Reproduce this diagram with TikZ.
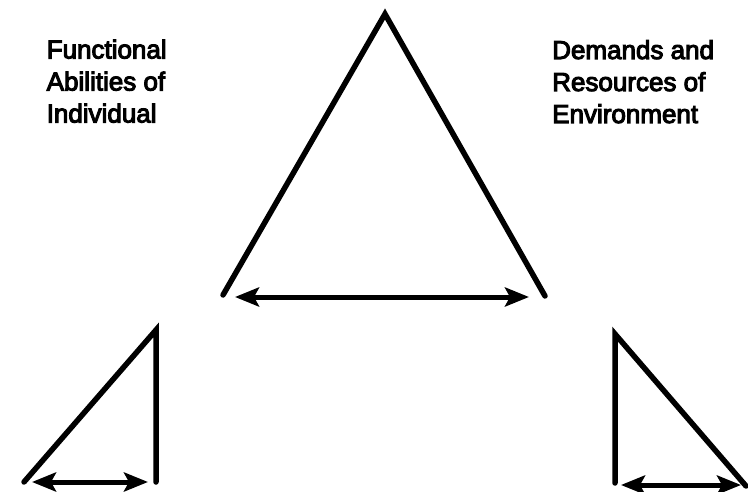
\documentclass[tikz,border=0pt]{standalone}
\usepackage{fontspec}
\usetikzlibrary{arrows.meta}
\newfontfamily\lblfont[FakeBold=4]{Liberation Sans}
\tikzset{
  edge/.style={line width=5.5pt, line cap=round, line join=miter},
  headtip/.tip={Stealth[length=24pt,width=19pt,inset=5pt]},
  dblarrow/.style={line width=5pt, headtip-headtip},
  lbl/.style={anchor=base west, inner sep=0pt, align=left, font=\lblfont\fontsize{26}{32}\selectfont}
}
\begin{document}
\begin{tikzpicture}[x=1pt,y=-1pt]
\useasboundingbox (0,0) rectangle (748,492);
% main triangle
\coordinate (apex) at (385,14);
\coordinate (mL) at (223,295);
\coordinate (mR) at (545,296);
\draw[edge] (mL) -- (apex) -- (mR);
\coordinate (maL) at (235,297);
\coordinate (maR) at (529,297);
\draw[dblarrow] (maL) -- (maR);
% left small triangle
\coordinate (lA) at (156,330);
\coordinate (lL) at (24,482);
\coordinate (lB) at (156,482);
\draw[edge] (lL) -- (lA) -- (lB);
\coordinate (laL) at (32,482);
\coordinate (laR) at (148,482);
\draw[dblarrow] (laL) -- (laR);
% right small triangle
\coordinate (rA) at (615,334);
\coordinate (rB) at (615,483);
\coordinate (rR) at (746,486);
\draw[edge] (rB) -- (rA) -- (rR);
\coordinate (raL) at (621,485);
\coordinate (raR) at (741,485);
\draw[dblarrow] (raL) -- (raR);
% labels (base anchor = baseline of last line)
\node[lbl] (ind) at (46.5,122.5) {Functional\\Abilities of\\Individual};
\node[lbl] (env) at (552,123) {Demands and\\Resources of\\Environment};
\end{tikzpicture}
\end{document}
